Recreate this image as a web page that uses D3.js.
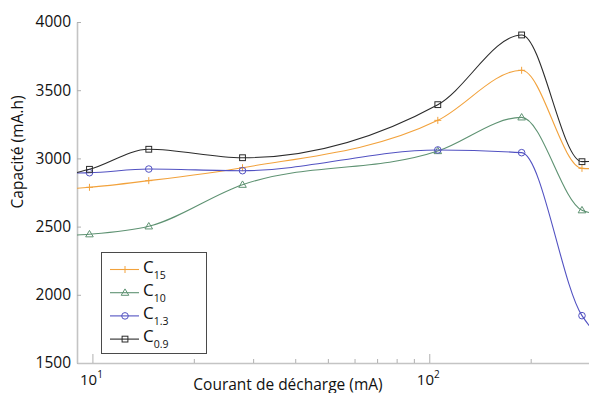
<!DOCTYPE html>
<html>
<head>
<meta charset="utf-8">
<script src="https://cdn.jsdelivr.net/npm/d3@7"></script>
<style>
body { margin: 0; background: #fff; }
text { font-family: "Open Sans", sans-serif; fill: #111; }
</style>
</head>
<body>
<svg id="chart"></svg>
<script>
// discharge current (mA) and capacity (mA.h)
const currents = [9.8, 14.7, 27.9, 106, 188, 284]
const capC15 = [2788, 2837, 2932, 3279, 3646, 2927]
const capC10 = [2444, 2502, 2807, 3054, 3301, 2620]
const capC13 = [2895, 2922, 2910, 3062, 3042, 1847]
const capC09 = [2920, 3067, 3005, 3394, 3905, 2976]
// where each curve meets the left / right edge of the plot (no marker there)
const edgeCurrents = [9, 300]
const edgeC15 = [2781, 2925]
const edgeC10 = [2438, 2602]
const edgeC13 = [2893, 1766]
const edgeC09 = [2897, 2977]
const yTicks = [1500, 2000, 2500, 3000, 3500, 4000]
const xMajor = [10, 100]
const xMinor = [20, 30, 40, 50, 60, 70, 80, 90, 200]
const legendSubs = ['15', '10', '1.3', '0.9']

const width = 589
const height = 393
const margin = {left: 77, top: 22}
const plotRight = 590
const plotBottom = 363

const series = [
    {sub: legendSubs[0], values: capC15, edge: edgeC15, color: '#f2a23c', marker: 'plus'},
    {sub: legendSubs[1], values: capC10, edge: edgeC10, color: '#5e9272', marker: 'triangle'},
    {sub: legendSubs[2], values: capC13, edge: edgeC13, color: '#5252c2', marker: 'circle'},
    {sub: legendSubs[3], values: capC09, edge: edgeC09, color: '#2b2b2b', marker: 'square'}
]

const svg = d3.select('#chart')
    .attr('width', width)
    .attr('height', height)

const xScale = d3.scaleLog()
    .domain(edgeCurrents)
    .range([margin.left, plotRight])
const yScale = d3.scaleLinear()
    .domain([1500, 4000])
    .range([plotBottom, margin.top])

svg.append('defs').append('clipPath')
    .attr('id', 'plot-clip')
    .append('rect')
    .attr('x', margin.left)
    .attr('y', margin.top)
    .attr('width', plotRight - margin.left)
    .attr('height', plotBottom - margin.top)

// axes
const yAxis = d3.axisLeft(yScale)
    .tickValues(yTicks)
    .tickSizeInner(-4)
    .tickSizeOuter(0)
    .tickPadding(6)
    .tickFormat(d3.format('d'))
const gy = svg.append('g')
    .attr('id', 'y-axis')
    .attr('transform', 'translate(' + margin.left + ', 0)')
    .call(yAxis)

const xAxis = d3.axisBottom(xScale)
    .tickValues(xMajor)
    .tickSizeInner(-9)
    .tickSizeOuter(0)
    .tickFormat(() => '')
svg.append('g')
    .attr('id', 'x-axis')
    .attr('transform', 'translate(0, ' + plotBottom + ')')
    .call(xAxis)
const gxMinor = svg.append('g')
    .attr('transform', 'translate(0, ' + plotBottom + ')')
    .call(d3.axisBottom(xScale).tickValues(xMinor).tickSizeInner(-4).tickSizeOuter(0).tickFormat(() => ''))
gxMinor.select('.domain').remove()

svg.selectAll('.domain').attr('stroke', '#c4c4c4').attr('stroke-width', 1.6)
svg.selectAll('.tick line').attr('stroke', '#b0b0b0').attr('stroke-width', 1)
gy.selectAll('.tick text')
    .attr('font-size', 15.5)
    .attr('font-family', '"Open Sans", sans-serif')
    .attr('fill', '#111')

const xLabels = svg.append('g')
    .selectAll('text')
    .data(xMajor)
    .enter()
    .append('text')
    .attr('x', (d) => xScale(d) - 1)
    .attr('y', 385)
    .attr('text-anchor', 'middle')
    .attr('font-size', 15)
xLabels.append('tspan').text('10')
xLabels.append('tspan')
    .attr('dy', -7)
    .attr('font-size', 10)
    .text((d) => Math.round(Math.log10(d)))

svg.append('text')
    .attr('x', 288)
    .attr('y', 390)
    .attr('text-anchor', 'middle')
    .attr('font-size', 15.5)
    .text('Courant de décharge (mA)')

svg.append('text')
    .attr('transform', 'translate(23, 152) rotate(-90)')
    .attr('text-anchor', 'middle')
    .attr('font-size', 15.5)
    .text('Capacité (mA.h)')

// curves
const line = d3.line()
    .x((d) => xScale(d[0]))
    .y((d) => yScale(d[1]))
    .curve(d3.curveMonotoneX)

const drawMarker = (sel, type, color) => {
    if (type === 'plus') {
        sel.append('path').attr('d', 'M-3.5,0H3.5M0,-3.5V3.5')
    } else if (type === 'triangle') {
        sel.append('path').attr('d', 'M0,-3.8L3.8,2.6L-3.8,2.6Z')
    } else if (type === 'circle') {
        sel.append('circle').attr('r', 3.3)
    } else {
        sel.append('rect').attr('x', -2.9).attr('y', -2.9).attr('width', 5.8).attr('height', 5.8)
    }
    sel.selectAll('*').attr('fill', 'none').attr('stroke', color).attr('stroke-width', 1)
}

series.forEach((s) => {
    const pts = currents.map((c, i) => [c, s.values[i]])
    const full = [[edgeCurrents[0], s.edge[0]]].concat(pts, [[edgeCurrents[1], s.edge[1]]])
    svg.append('path')
        .datum(full)
        .attr('clip-path', 'url(#plot-clip)')
        .attr('fill', 'none')
        .attr('stroke', s.color)
        .attr('stroke-width', 1.1)
        .attr('d', line)
    svg.append('g')
        .selectAll('g')
        .data(pts)
        .enter()
        .append('g')
        .attr('transform', (d) => 'translate(' + xScale(d[0]) + ',' + yScale(d[1]) + ')')
        .each(function() { drawMarker(d3.select(this), s.marker, s.color) })
})

// legend
const legend = svg.append('g').attr('id', 'legend')
legend.append('rect')
    .attr('x', 101.5)
    .attr('y', 252.5)
    .attr('width', 105)
    .attr('height', 101)
    .attr('fill', '#fff')
    .attr('stroke', '#4a4a4a')
    .attr('stroke-width', 1)
const rows = legend.selectAll('.row')
    .data(series)
    .enter()
    .append('g')
    .attr('class', 'row')
    .attr('transform', (d, i) => 'translate(0,' + (269.5 + i * 23.2) + ')')
rows.append('line')
    .attr('x1', 110)
    .attr('x2', 139)
    .attr('stroke', (d) => d.color)
    .attr('stroke-width', 1.1)
rows.append('g')
    .attr('transform', 'translate(125,0)')
    .each(function(d) { drawMarker(d3.select(this), d.marker, d.color) })
const labels = rows.append('text')
    .attr('x', 143)
    .attr('y', 3)
    .attr('font-size', 17)
labels.append('tspan').text('C')
labels.append('tspan')
    .attr('dy', 6)
    .attr('font-size', 10.5)
    .text((d) => d.sub)
</script>
</body>
</html>
